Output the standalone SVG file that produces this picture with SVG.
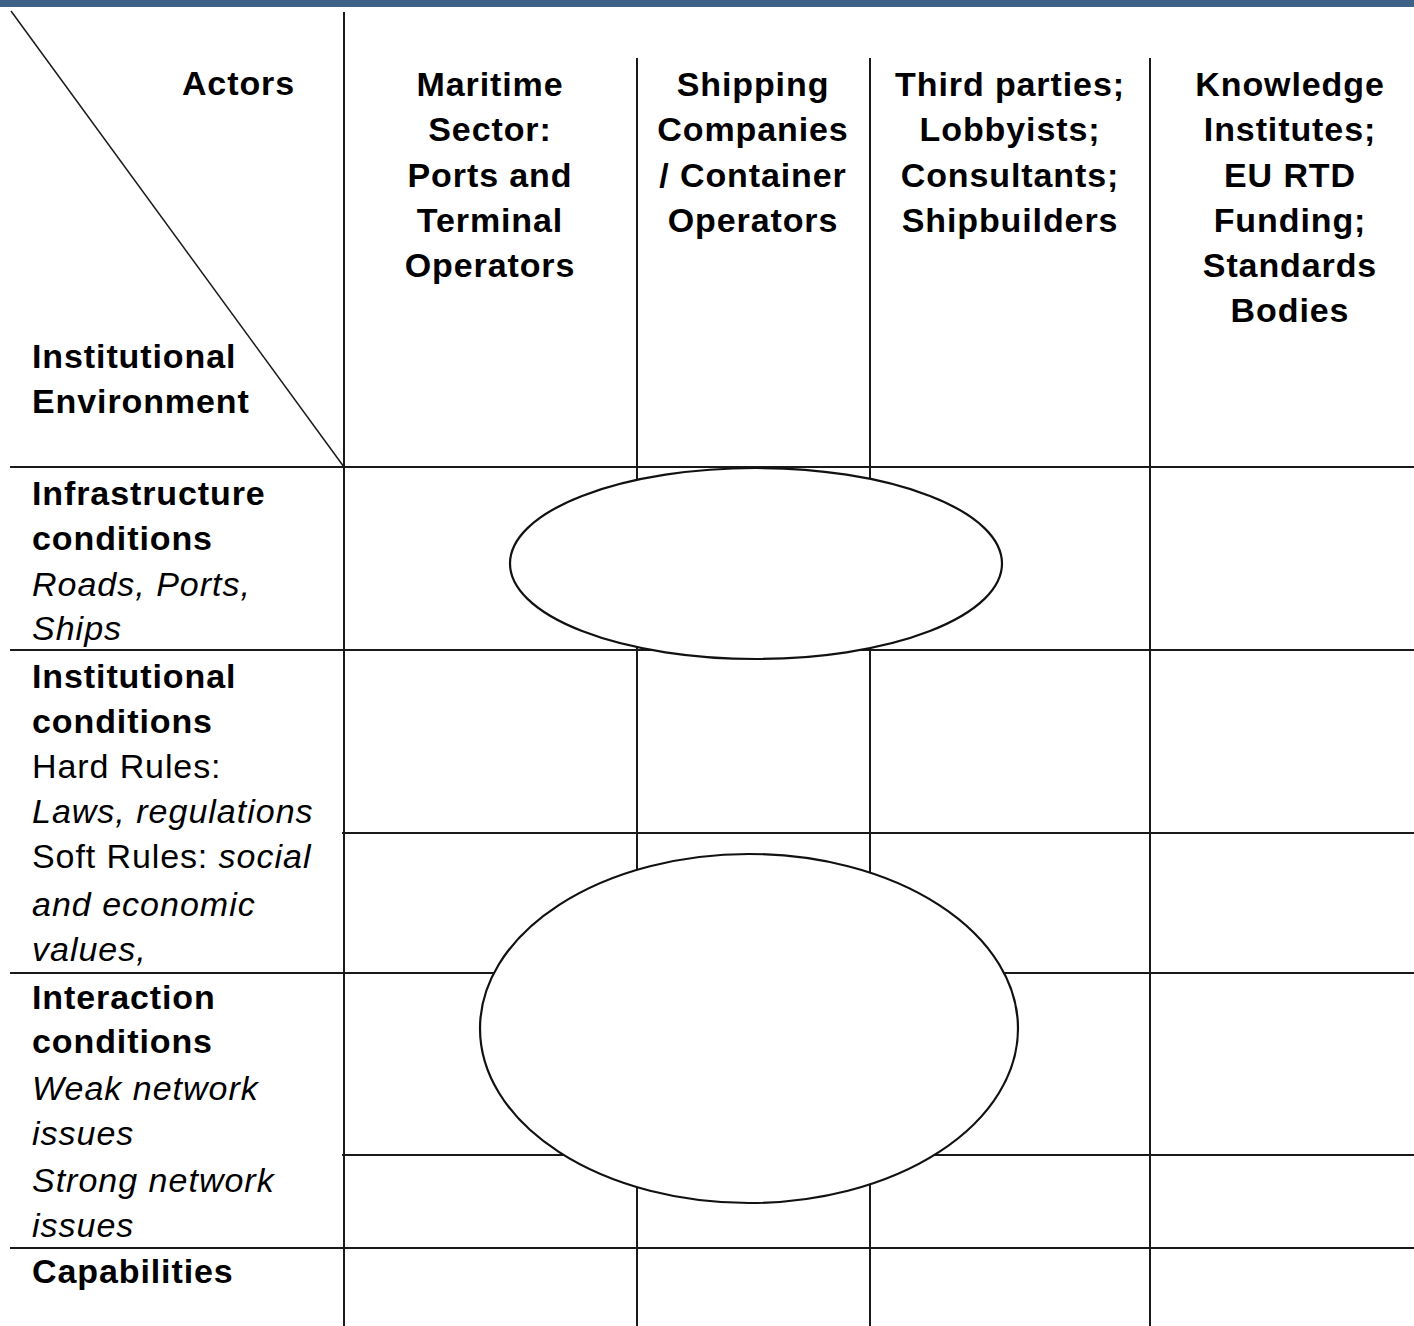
<svg xmlns="http://www.w3.org/2000/svg" width="1414" height="1326" viewBox="0 0 1414 1326">
<style>
.t{font-family:"Liberation Sans",Arial,sans-serif;font-size:34px;fill:#000;letter-spacing:0.9px}
.b{font-weight:bold;letter-spacing:0.9px}
.i{font-style:italic;letter-spacing:1px}
.c{text-anchor:middle}
.ln{stroke:#1a1a1a;stroke-width:2;fill:none}
.el{stroke:#111;stroke-width:2.2;fill:#fff}
</style>
<rect x="0" y="0" width="1414" height="7" fill="#3e6188"/>
<g id="grid" class="ln">
<line x1="11" y1="11" x2="344" y2="467" stroke-width="1.5"/>
<line x1="344" y1="12" x2="344" y2="1326"/>
<line x1="637" y1="58" x2="637" y2="1326"/>
<line x1="870" y1="58" x2="870" y2="1326"/>
<line x1="1150" y1="58" x2="1150" y2="1326"/>
<line x1="10" y1="467" x2="1414" y2="467"/>
<line x1="10" y1="650" x2="1414" y2="650"/>
<line x1="342" y1="833" x2="1414" y2="833"/>
<line x1="10" y1="973" x2="1414" y2="973"/>
<line x1="342" y1="1155" x2="1414" y2="1155"/>
<line x1="10" y1="1248" x2="1414" y2="1248"/>
</g>
<g id="ellipses">
<ellipse id="ellipse-upper" class="el" cx="756" cy="563.5" rx="246" ry="95.5"/>
<ellipse id="ellipse-lower" class="el" cx="749" cy="1028.5" rx="269" ry="174.5"/>
</g>
<g id="header-actors">
<text class="t b" x="295" y="95" text-anchor="end">Actors</text>
</g>
<g id="header-env">
<text class="t b" x="32" y="368">Institutional</text>
<text class="t b" x="32" y="413">Environment</text>
</g>
<g id="col-maritime" class="t b c">
<text x="490" y="96">Maritime</text>
<text x="490" y="141">Sector:</text>
<text x="490" y="187">Ports and</text>
<text x="490" y="232">Terminal</text>
<text x="490" y="277">Operators</text>
</g>
<g id="col-shipping" class="t b c">
<text x="753" y="96">Shipping</text>
<text x="753" y="141">Companies</text>
<text x="753" y="187">/ Container</text>
<text x="753" y="232">Operators</text>
</g>
<g id="col-third" class="t b c">
<text x="1010" y="96">Third parties;</text>
<text x="1010" y="141">Lobbyists;</text>
<text x="1010" y="187">Consultants;</text>
<text x="1010" y="232">Shipbuilders</text>
</g>
<g id="col-knowledge" class="t b c">
<text x="1290" y="96">Knowledge</text>
<text x="1290" y="141">Institutes;</text>
<text x="1290" y="187">EU RTD</text>
<text x="1290" y="232">Funding;</text>
<text x="1290" y="277">Standards</text>
<text x="1290" y="322">Bodies</text>
</g>
<g id="row-infrastructure" class="t">
<text class="b" x="32" y="505">Infrastructure</text>
<text class="b" x="32" y="550">conditions</text>
<text class="i" x="32" y="596">Roads, Ports,</text>
<text class="i" x="32" y="640">Ships</text>
</g>
<g id="row-institutional" class="t">
<text class="b" x="32" y="688">Institutional</text>
<text class="b" x="32" y="733">conditions</text>
<text x="32" y="778">Hard Rules:</text>
<text class="i" x="32" y="823">Laws, regulations</text>
<text x="32" y="868">Soft Rules: <tspan class="i">social</tspan></text>
<text class="i" x="32" y="916">and economic</text>
<text class="i" x="32" y="961">values,</text>
</g>
<g id="row-interaction" class="t">
<text class="b" x="32" y="1009">Interaction</text>
<text class="b" x="32" y="1053">conditions</text>
<text class="i" x="32" y="1100">Weak network</text>
<text class="i" x="32" y="1145">issues</text>
<text class="i" x="32" y="1192">Strong network</text>
<text class="i" x="32" y="1237">issues</text>
</g>
<g id="row-capabilities" class="t">
<text class="b" x="32" y="1283">Capabilities</text>
</g>
</svg>
